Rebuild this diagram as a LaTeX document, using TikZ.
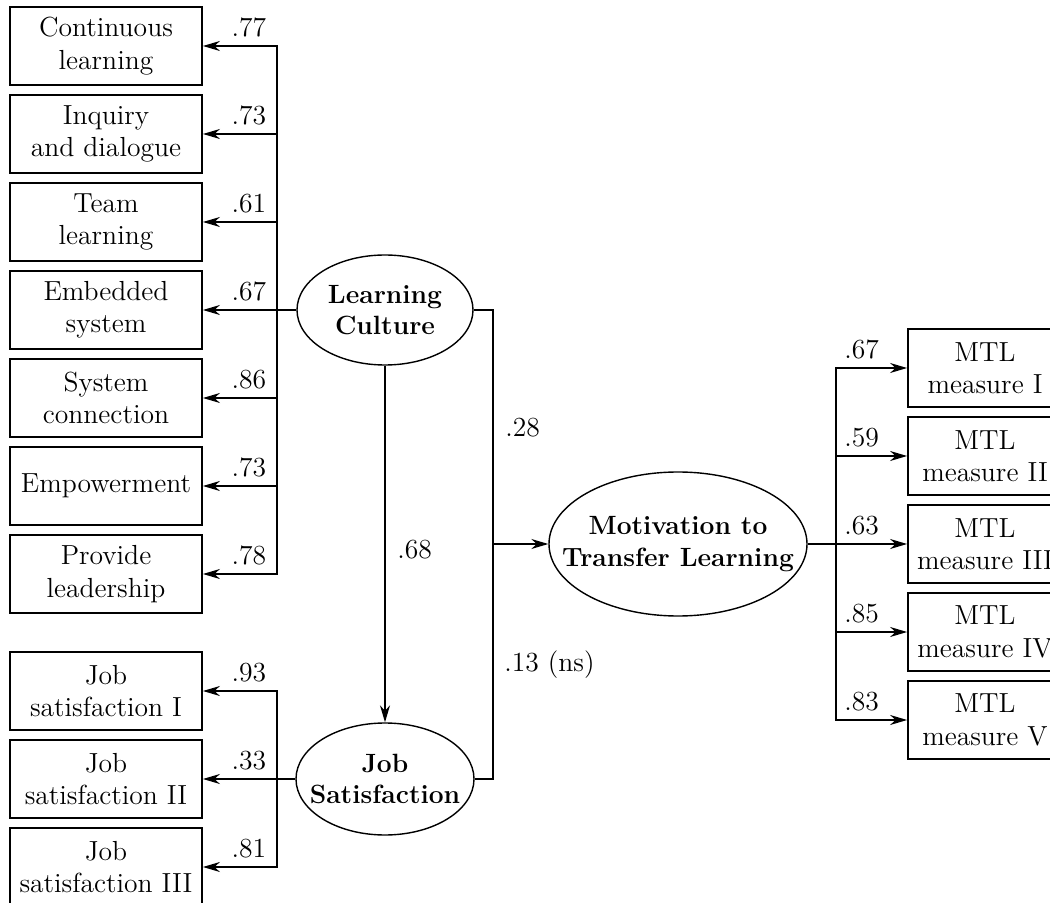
\documentclass[tikz,border=0pt]{standalone}
\usetikzlibrary{arrows.meta,shapes.geometric}
\begin{document}
\begin{tikzpicture}[x=0.5pt,y=-0.5pt,
  every node/.style={font=\fontsize{13.8}{16.2}\selectfont},
  obs/.style={draw,line width=0.9pt,minimum width=96pt,minimum height=39pt,align=center,inner sep=0pt},
  obsr/.style={draw,line width=0.9pt,minimum width=77pt,minimum height=39pt,align=center,inner sep=0pt},
  lat/.style={draw,line width=0.7pt,ellipse,inner sep=0pt},
  lattext/.style={align=center,inner sep=0pt,font=\fontsize{13.2}{15.6}\selectfont\bfseries},
  conn/.style={line width=0.75pt},
  arr/.style={conn,-{Stealth[length=8.5pt,width=5pt]}},
  lab/.style={anchor=south,inner sep=4.2pt},
  plab/.style={anchor=west,inner sep=0pt}]
\useasboundingbox (0,0) rectangle (1050,903);
\clip (0,0) rectangle (1050,903);
% left indicator boxes
\node[obs] (b1) at (106,46) {Continuous\\learning};
\node[obs] (b2) at (106,134) {Inquiry\\and dialogue};
\node[obs] (b3) at (106,222) {Team\\learning};
\node[obs] (b4) at (106,310) {Embedded\\system};
\node[obs] (b5) at (106,398) {System\\connection};
\node[obs] (b6) at (106,486) {Empowerment};
\node[obs] (b7) at (106,574) {Provide\\leadership};
% job satisfaction boxes
\node[obs] (j1) at (106,691) {Job\\satisfaction I};
\node[obs] (j2) at (106,779) {Job\\satisfaction II};
\node[obs] (j3) at (106,867) {Job\\satisfaction III};
% MTL boxes
\node[obsr] (m1) at (985,368) {MTL\\measure I};
\node[obsr] (m2) at (985,456) {MTL\\measure II};
\node[obsr] (m3) at (985,544) {MTL\\measure III};
\node[obsr] (m4) at (985,632) {MTL\\measure IV};
\node[obsr] (m5) at (985,720) {MTL\\measure V};
% latent variables
\node[lat,minimum width=88pt,minimum height=55pt] (LC) at (385,310) {};
\node[lattext] (LCt) at (LC) {Learning\\Culture};
\node[lat,minimum width=89pt,minimum height=56pt] (JS) at (385,779) {};
\node[lattext] (JSt) at (JS) {Job\\Satisfaction};
\node[lat,minimum width=129pt,minimum height=72pt] (MT) at (678,544) {};
\node[lattext] (MTt) at (MT) {Motivation to\\Transfer Learning};
% buses
\coordinate (lcbus) at (277,310);
\coordinate (jsbus) at (277,779);
\coordinate (midbus) at (493,544);
\coordinate (mtbus) at (836,544);
% learning culture loadings
\draw[conn] (LC.west) -- (lcbus);
\draw[arr] (lcbus) |- node[lab,pos=0.69] {.77} (b1.east);
\draw[arr] (lcbus) |- node[lab,pos=0.69] {.73} (b2.east);
\draw[arr] (lcbus) |- node[lab,pos=0.69] {.61} (b3.east);
\draw[arr] (lcbus) -- node[lab,pos=0.38] {.67} (b4.east);
\draw[arr] (lcbus) |- node[lab,pos=0.69] {.86} (b5.east);
\draw[arr] (lcbus) |- node[lab,pos=0.69] {.73} (b6.east);
\draw[arr] (lcbus) |- node[lab,pos=0.69] {.78} (b7.east);
% job satisfaction loadings
\draw[conn] (JS.west) -- (jsbus);
\draw[arr] (jsbus) |- node[lab,pos=0.69] {.93} (j1.east);
\draw[arr] (jsbus) -- node[lab,pos=0.38] {.33} (j2.east);
\draw[arr] (jsbus) |- node[lab,pos=0.69] {.81} (j3.east);
% structural paths
\draw[arr] (LC.south) -- (JS.north);
\node[plab] (l68) at (397,550) {.68};
\draw[conn] (LC.east) -| (midbus);
\draw[conn] (JS.east) -| (midbus);
\draw[arr] (midbus) -- (MT.west);
\node[plab] (l28) at (505,428) {.28};
\node[plab] (l13) at (504,665) {.13 (ns)};
% MTL loadings
\draw[conn] (MT.east) -- (mtbus);
\draw[arr] (mtbus) |- node[lab,pos=0.68] {.67} (m1.west);
\draw[arr] (mtbus) |- node[lab,pos=0.68] {.59} (m2.west);
\draw[arr] (mtbus) -- node[lab,pos=0.36] {.63} (m3.west);
\draw[arr] (mtbus) |- node[lab,pos=0.68] {.85} (m4.west);
\draw[arr] (mtbus) |- node[lab,pos=0.68] {.83} (m5.west);
\end{tikzpicture}
\end{document}
